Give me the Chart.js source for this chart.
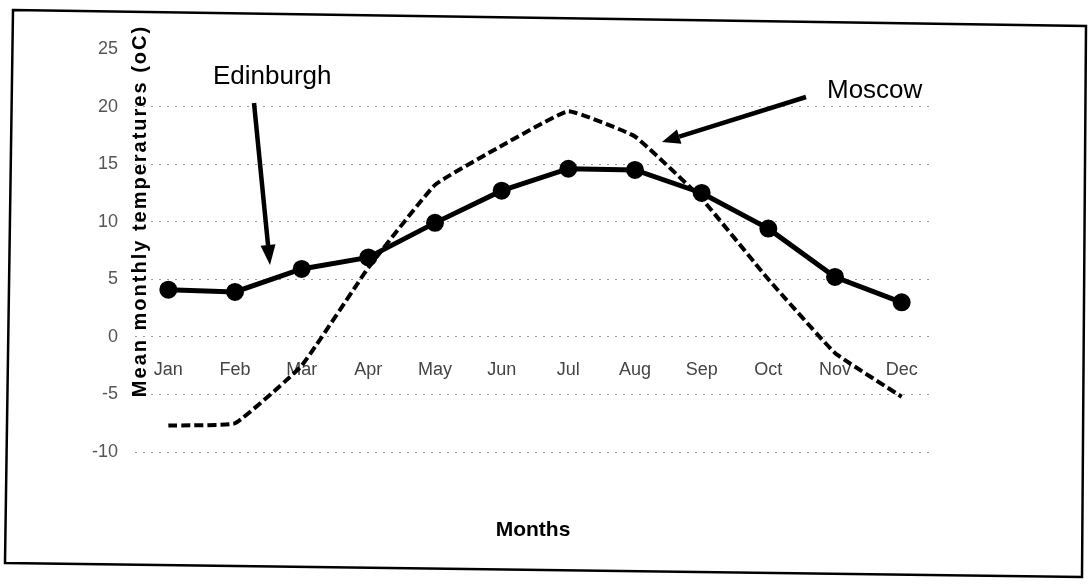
<!DOCTYPE html>
<html>
<head>
<meta charset="utf-8">
<script src="https://cdn.jsdelivr.net/npm/chart.js@4"></script>
<style>
  html, body { margin: 0; padding: 0; background: #fff; }
  canvas { display: block; }
</style>
</head>
<body>
<canvas id="c" width="1089" height="585"></canvas>
<script>
const months = ['Jan','Feb','Mar','Apr','May','Jun','Jul','Aug','Sep','Oct','Nov','Dec'];
const edinburgh = [4.1, 3.9, 5.9, 6.9, 9.9, 12.7, 14.6, 14.5, 12.5, 9.4, 5.2, 3.0];
const moscow = [-7.7, -7.5, -2.5, 6.0, 13.2, 16.6, 19.6, 17.4, 12.0, 5.0, -1.4, -5.2];
const yMin = -10, yMax = 25, yStep = 5;
const yTitle = 'Mean monthly temperatures (oC)';
const xTitle = 'Months';
const labelEdinburgh = 'Edinburgh';
const labelMoscow = 'Moscow';

function arrow(ctx, x1, y1, x2, y2, w, headLen, headW) {
  const ang = Math.atan2(y2 - y1, x2 - x1);
  const bx = x2 - headLen * Math.cos(ang), by = y2 - headLen * Math.sin(ang);
  ctx.save();
  ctx.strokeStyle = '#000'; ctx.fillStyle = '#000';
  ctx.lineWidth = w; ctx.lineCap = 'butt';
  ctx.beginPath(); ctx.moveTo(x1, y1); ctx.lineTo(bx, by); ctx.stroke();
  ctx.beginPath();
  ctx.moveTo(x2, y2);
  ctx.lineTo(bx + headW / 2 * Math.sin(ang), by - headW / 2 * Math.cos(ang));
  ctx.lineTo(bx - headW / 2 * Math.sin(ang), by + headW / 2 * Math.cos(ang));
  ctx.closePath(); ctx.fill();
  ctx.restore();
}

const decor = {
  id: 'decor',
  afterDraw(chart) {
    const ctx = chart.ctx;
    ctx.save();
    ctx.strokeStyle = '#000'; ctx.lineWidth = 2.5;
    ctx.beginPath();
    ctx.moveTo(13, 10); ctx.lineTo(1086, 26); ctx.lineTo(1082, 577); ctx.lineTo(5, 563);
    ctx.closePath(); ctx.stroke();

    ctx.save();
    ctx.translate(140, 211);
    ctx.rotate(-Math.PI / 2);
    ctx.font = 'bold 20px "Liberation Sans", Arial, sans-serif';
    ctx.letterSpacing = '2px';
    ctx.fillStyle = '#000';
    ctx.textAlign = 'center'; ctx.textBaseline = 'middle';
    ctx.fillText(yTitle, 0, 0);
    ctx.restore();

    ctx.font = 'bold 21px "Liberation Sans", Arial, sans-serif';
    ctx.fillStyle = '#000';
    ctx.textAlign = 'center'; ctx.textBaseline = 'alphabetic';
    ctx.fillText(xTitle, 533, 536);

    ctx.font = '26px "Liberation Sans", Arial, sans-serif';
    ctx.textAlign = 'left';
    ctx.fillText(labelEdinburgh, 213, 84);
    ctx.fillText(labelMoscow, 827, 98);
    ctx.restore();

    arrow(ctx, 254, 103, 270, 265, 4.5, 20, 15);
    arrow(ctx, 806, 97, 662, 142, 4.5, 18, 15);
  }
};

new Chart(document.getElementById('c'), {
  type: 'line',
  data: {
    labels: months,
    datasets: [
      {
        label: 'Moscow',
        data: moscow,
        borderColor: '#000',
        borderWidth: 4,
        borderDash: [9, 4],
        pointRadius: 0,
        tension: 0.1,
        fill: false,
        order: 0
      },
      {
        label: 'Edinburgh',
        data: edinburgh,
        borderColor: '#000',
        backgroundColor: '#000',
        borderWidth: 5,
        pointRadius: 6.5,
        pointBackgroundColor: '#000',
        pointBorderColor: '#000',
        tension: 0,
        fill: false,
        order: 1
      }
    ]
  },
  options: {
    responsive: false,
    animation: false,
    events: [],
    layout: { padding: { left: 75, right: 154, top: 49, bottom: 133 } },
    plugins: { legend: { display: false }, tooltip: { enabled: false } },
    scales: {
      x: {
        type: 'category',
        offset: true,
        position: { y: 0 },
        grid: { display: false },
        border: { display: false },
        ticks: {
          color: '#444',
          font: { family: '"Liberation Sans", Arial, sans-serif', size: 18 },
          padding: 14,
          maxRotation: 0,
          autoSkip: false
        }
      },
      y: {
        min: yMin,
        max: yMax,
        afterFit(scale) { scale.width = 60; },
        grid: {
          drawTicks: false,
          color: (c) => (c.tick && c.tick.value === yMax) ? 'rgba(0,0,0,0)' : '#9a9a9a',
          lineWidth: 1
        },
        border: { display: false, dash: [2, 6] },
        ticks: {
          stepSize: yStep,
          padding: 17,
          color: '#555',
          font: { family: '"Liberation Sans", Arial, sans-serif', size: 18 }
        }
      }
    }
  },
  plugins: [decor]
});
</script>
</body>
</html>
